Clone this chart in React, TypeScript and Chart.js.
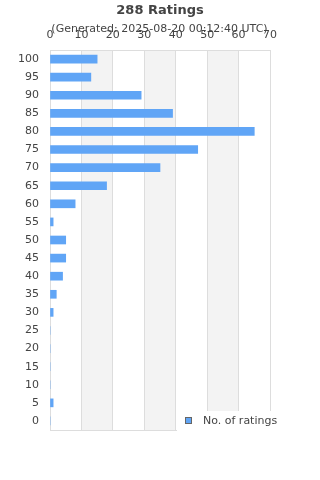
import React, { useEffect, useRef } from "react";
import { Chart, registerables } from "chart.js";

Chart.register(...registerables);

const titleText = "288 Ratings";
const subtitleText = "(Generated: 2025-08-20 00:12:40 UTC)";
const seriesName = "No. of ratings";
const categories = ["100", "95", "90", "85", "80", "75", "70", "65", "60", "55", "50", "45", "40", "35", "30", "25", "20", "15", "10", "5", "0"];
const ratingCounts = [15, 13, 29, 39, 65, 47, 35, 18, 8, 1, 5, 5, 4, 2, 1, 0, 0, 0, 0, 1, 0];
const xTicks = [0, 10, 20, 30, 40, 50, 60, 70];
const bandRanges = [[10, 20], [30, 40], [50, 60]];

const FONT = "'DejaVu Sans', sans-serif";
const BAR_COLOR = "#60a5f6";
const TEXT_COLOR = "#444444";
const GRID_COLOR = "#dddddd";

export default function App() {
  const ref = useRef<HTMLCanvasElement | null>(null);
  useEffect(() => {
    if (!ref.current) return;
    const decor = {
      id: "decor",
      beforeDraw(chart: any) {
        const { ctx, chartArea } = chart;
        const xs = chart.scales.x;
        ctx.save();
        ctx.fillStyle = "#f3f3f3";
        for (const [a, b] of bandRanges) {
          const x1 = xs.getPixelForValue(a);
          const x2 = xs.getPixelForValue(b);
          ctx.fillRect(x1, chartArea.top, x2 - x1, chartArea.bottom - chartArea.top);
        }
        ctx.restore();
      },
      afterDraw(chart: any) {
        const { ctx, chartArea, width } = chart;
        ctx.save();
        ctx.strokeStyle = GRID_COLOR;
        ctx.lineWidth = 1;
        ctx.beginPath();
        ctx.moveTo(chartArea.left, Math.round(chartArea.bottom) + 0.5);
        ctx.lineTo(chartArea.right, Math.round(chartArea.bottom) + 0.5);
        ctx.stroke();
        ctx.fillStyle = TEXT_COLOR;
        ctx.textAlign = "center";
        ctx.textBaseline = "middle";
        ctx.font = `bold 13px ${FONT}`;
        ctx.fillText(titleText, width / 2, 11);
        ctx.font = `11px ${FONT}`;
        ctx.fillText(subtitleText, width / 2 - 0.5, 29);
        ctx.fillStyle = "#ffffff";
        ctx.fillRect(177, 411, 143, 40);
        ctx.fillStyle = BAR_COLOR;
        ctx.fillRect(185.5, 417.5, 6, 6);
        ctx.strokeStyle = "#666666";
        ctx.strokeRect(185.5, 417.5, 6, 6);
        ctx.fillStyle = TEXT_COLOR;
        ctx.textAlign = "left";
        ctx.font = `11px ${FONT}`;
        ctx.fillText(seriesName, 203, 421);
        ctx.restore();
      },
    };
    const chart = new Chart(ref.current, {
      type: "bar",
      data: {
        labels: categories,
        datasets: [
          {
            label: seriesName,
            data: ratingCounts,
            backgroundColor: BAR_COLOR,
            barThickness: 8,
          },
        ],
      },
      options: {
        indexAxis: "y",
        animation: false,
        responsive: false,
        layout: { padding: { top: 26, right: 50, left: 0, bottom: 50 } },
        plugins: {
          legend: { display: false },
          title: { display: false },
          tooltip: { enabled: false },
        },
        scales: {
          x: {
            position: "top",
            min: 0,
            max: 70,
            afterBuildTicks(scale: any) {
              scale.ticks = xTicks.map((v) => ({ value: v }));
            },
            afterFit(scale: any) {
              scale.height = 24;
            },
            ticks: {
              color: TEXT_COLOR,
              font: { family: FONT, size: 11 },
              padding: 8,
              maxRotation: 0,
            },
            grid: { color: GRID_COLOR, drawTicks: false },
            border: { color: GRID_COLOR },
          },
          y: {
            afterFit(scale: any) {
              scale.width = 50;
            },
            ticks: {
              color: TEXT_COLOR,
              font: { family: FONT, size: 11 },
              padding: 11,
              autoSkip: false,
            },
            grid: { display: false, drawTicks: false },
            border: { color: GRID_COLOR },
          },
        },
      },
      plugins: [decor],
    });
    return () => chart.destroy();
  }, []);
  return (
    <div style={{ position: "fixed", left: 0, top: 0, width: 320, height: 480, background: "#fff" }}>
      <canvas ref={ref} width={320} height={480} style={{ width: 320, height: 480 }} />
    </div>
  );
}
